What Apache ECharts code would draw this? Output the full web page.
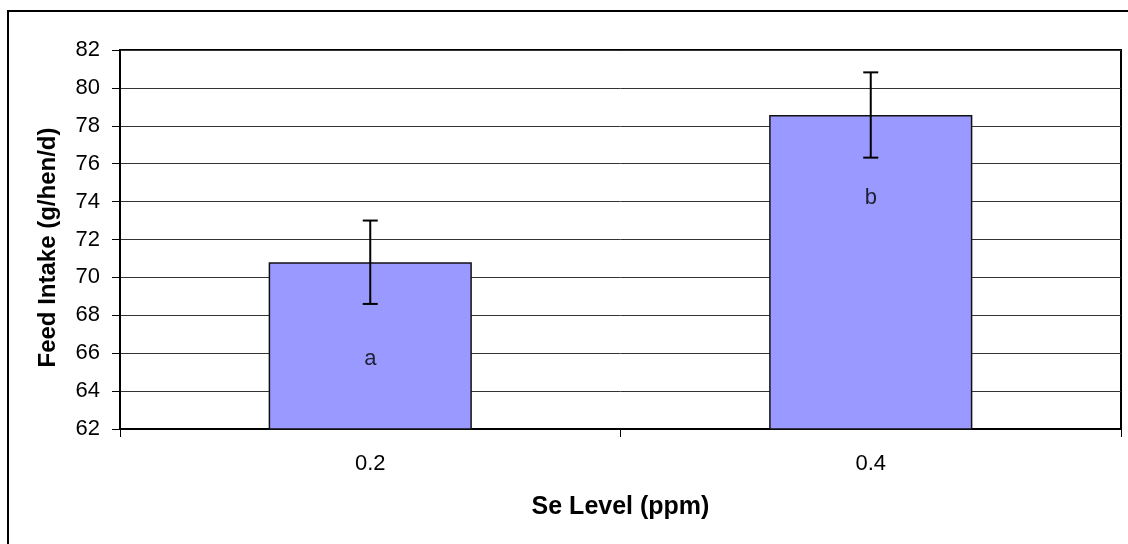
<!DOCTYPE html>
<html>
<head>
<meta charset="utf-8">
<script src="https://cdn.jsdelivr.net/npm/echarts@6/dist/echarts.min.js"></script>
<style>
html,body{margin:0;padding:0;background:#fff;}
#chart{width:1128px;height:544px;}
</style>
</head>
<body>
<div id="chart"></div>
<script>
const categories = ['0.2', '0.4'];
const feedIntake = [70.8, 78.57];
const errorSE = [2.2, 2.25];
const letters = ['a', 'b'];
const letterY = [65.7, 74.2];
const yTicks = { min: 62, max: 82, interval: 2 };

const FONT = '"Liberation Sans", Arial, sans-serif';
const chart = echarts.init(document.getElementById('chart'), null, { renderer: 'canvas' });

const errData = categories.map((c, i) => [i, feedIntake[i] - errorSE[i], feedIntake[i] + errorSE[i]]);
const letterData = categories.map((c, i) => [i, letterY[i], letters[i]]);

chart.setOption({
  animation: false,
  backgroundColor: '#fff',
  graphic: [{
    type: 'rect',
    shape: { x: 8, y: 11, width: 1130, height: 545 },
    style: { fill: 'none', stroke: '#000', lineWidth: 2 },
    z: 100
  }],
  grid: {
    left: 120, right: 7, top: 50, bottom: 115,
    show: true, borderColor: '#000', borderWidth: 2, backgroundColor: '#fff'
  },
  xAxis: {
    type: 'category',
    data: categories,
    name: 'Se Level (ppm)',
    nameLocation: 'middle',
    nameGap: 66,
    nameTextStyle: { fontFamily: FONT, fontSize: 25, fontWeight: 'bold', color: '#000' },
    axisLine: { lineStyle: { color: '#000', width: 2 } },
    axisTick: { show: true, length: 8, lineStyle: { color: '#000', width: 1 } },
    axisLabel: { fontFamily: FONT, fontSize: 22, color: '#000', margin: 24 }
  },
  yAxis: {
    type: 'value',
    min: yTicks.min, max: yTicks.max, interval: yTicks.interval,
    name: 'Feed Intake (g/hen/d)',
    nameLocation: 'middle',
    nameGap: 60,
    nameTextStyle: { fontFamily: FONT, fontSize: 24, fontWeight: 'bold', color: '#000', padding: [0, 16, 0, 0] },
    axisLine: { show: true, lineStyle: { color: '#000', width: 2 } },
    axisTick: { show: true, length: 8, lineStyle: { color: '#000', width: 1 } },
    axisLabel: { fontFamily: FONT, fontSize: 22, color: '#000', margin: 20 },
    splitLine: { show: true, lineStyle: { color: '#333', width: 1 } }
  },
  series: [
    {
      type: 'bar',
      data: feedIntake,
      barWidth: '40.6%',
      itemStyle: { color: '#9999FF', borderColor: '#111', borderWidth: 1.5 },
      z: 2
    },
    {
      type: 'custom',
      data: errData,
      z: 5,
      renderItem: function (params, api) {
        const x = api.coord([api.value(0), api.value(1)])[0];
        const lo = api.coord([api.value(0), api.value(1)])[1];
        const hi = api.coord([api.value(0), api.value(2)])[1];
        const hw = 7.5;
        const st = { stroke: '#000', lineWidth: 2, fill: null };
        return {
          type: 'group',
          children: [
            { type: 'line', shape: { x1: x, y1: lo, x2: x, y2: hi }, style: st },
            { type: 'line', shape: { x1: x - hw, y1: lo, x2: x + hw, y2: lo }, style: st },
            { type: 'line', shape: { x1: x - hw, y1: hi, x2: x + hw, y2: hi }, style: st }
          ]
        };
      }
    },
    {
      type: 'scatter',
      data: letterData,
      symbolSize: 0,
      z: 6,
      label: {
        show: true,
        position: 'inside',
        formatter: function (p) { return p.value[2]; },
        fontFamily: FONT, fontSize: 22, color: '#000'
      }
    }
  ]
});
</script>
</body>
</html>
